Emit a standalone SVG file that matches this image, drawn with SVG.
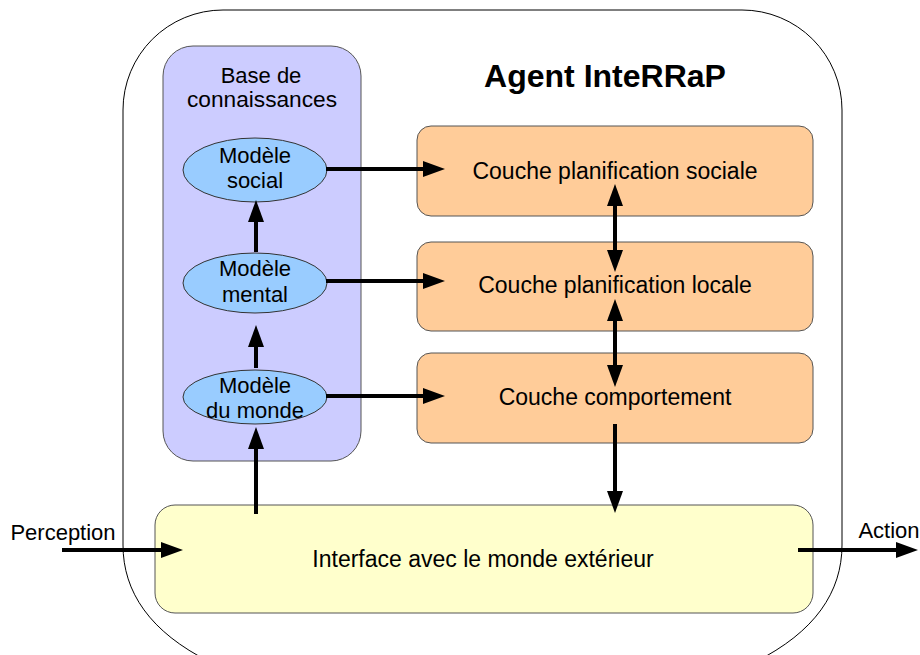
<svg xmlns="http://www.w3.org/2000/svg" width="920" height="655" viewBox="0 0 920 655">
<style>
text{font-family:"Liberation Sans",Arial,sans-serif;font-size:22px;fill:#000;text-anchor:middle}
.title{font-weight:bold;font-size:32px}
.big{font-size:23px}
.layer{fill:#ffcc99;stroke:#555;stroke-width:1}
.model{fill:#99ccff;stroke:#333;stroke-width:1}
.conn line{stroke:#000;stroke-width:4;fill:none}
</style>
<defs>
<marker id="ah" markerUnits="userSpaceOnUse" markerWidth="22" markerHeight="16" refX="0" refY="8" orient="auto-start-reverse" viewBox="0 0 22 16">
<path d="M0,0 L22,8 L0,16 z" fill="#000"/>
</marker>
</defs>
<g id="agent">
<path d="M210,662 C150,632 123,592 123,545 L123,110 A100,100 0 0 1 223,10 L742,10 A100,100 0 0 1 842,110 L842,545 C842,592 815,632 755,662" fill="#fff" stroke="#000" stroke-width="1"/>
<text class="title" x="605" y="87">Agent InteRRaP</text>
</g>
<g id="base">
<rect x="163" y="46" width="198" height="415" rx="30" fill="#ccccff" stroke="#555" stroke-width="1"/>
<text x="261" y="83">Base de</text>
<text x="262" y="107" style="font-size:22.7px">connaissances</text>
</g>
<g id="modele-social">
<ellipse class="model" cx="255" cy="170" rx="72" ry="32"/>
<text x="255" y="163">Modèle</text>
<text x="255" y="188">social</text>
</g>
<g id="modele-mental">
<ellipse class="model" cx="255" cy="283" rx="72" ry="30"/>
<text x="255" y="276">Modèle</text>
<text x="255" y="302">mental</text>
</g>
<g id="modele-monde">
<ellipse class="model" cx="255" cy="397" rx="72" ry="27"/>
<text x="255" y="393">Modèle</text>
<text x="255" y="418">du monde</text>
</g>
<g id="couche-sociale">
<rect class="layer" x="417" y="126" width="396" height="90" rx="14"/>
<text class="big" x="615" y="179">Couche planification sociale</text>
</g>
<g id="couche-locale">
<rect class="layer" x="417" y="242" width="396" height="89" rx="14"/>
<text class="big" x="615" y="293">Couche planification locale</text>
</g>
<g id="couche-comportement">
<rect class="layer" x="417" y="353" width="396" height="90" rx="14"/>
<text class="big" x="615" y="405">Couche comportement</text>
</g>
<g id="interface">
<rect x="155" y="505" width="658" height="108" rx="20" fill="#ffffcc" stroke="#555" stroke-width="1"/>
<text class="big" x="483" y="567">Interface avec le monde extérieur</text>
</g>
<g id="perception">
<text x="63" y="540">Perception</text>
</g>
<g id="action">
<text x="889" y="538">Action</text>
</g>
<g id="connectors" class="conn">
<line x1="326" y1="169" x2="423" y2="169" marker-end="url(#ah)"/>
<line x1="326" y1="281" x2="423" y2="281" marker-end="url(#ah)"/>
<line x1="326" y1="396" x2="423" y2="396" marker-end="url(#ah)"/>
<line x1="256" y1="368" x2="256" y2="347" marker-end="url(#ah)"/>
<line x1="256" y1="252" x2="256" y2="222" marker-end="url(#ah)"/>
<line x1="256" y1="514" x2="256" y2="449" marker-end="url(#ah)"/>
<line x1="615" y1="206" x2="615" y2="250" marker-start="url(#ah)" marker-end="url(#ah)"/>
<line x1="615" y1="321" x2="615" y2="365" marker-start="url(#ah)" marker-end="url(#ah)"/>
<line x1="615" y1="424" x2="615" y2="491" marker-end="url(#ah)"/>
<line x1="62" y1="550" x2="161" y2="550" marker-end="url(#ah)"/>
<line x1="798" y1="550" x2="896" y2="550" marker-end="url(#ah)"/>
</g>
</svg>
